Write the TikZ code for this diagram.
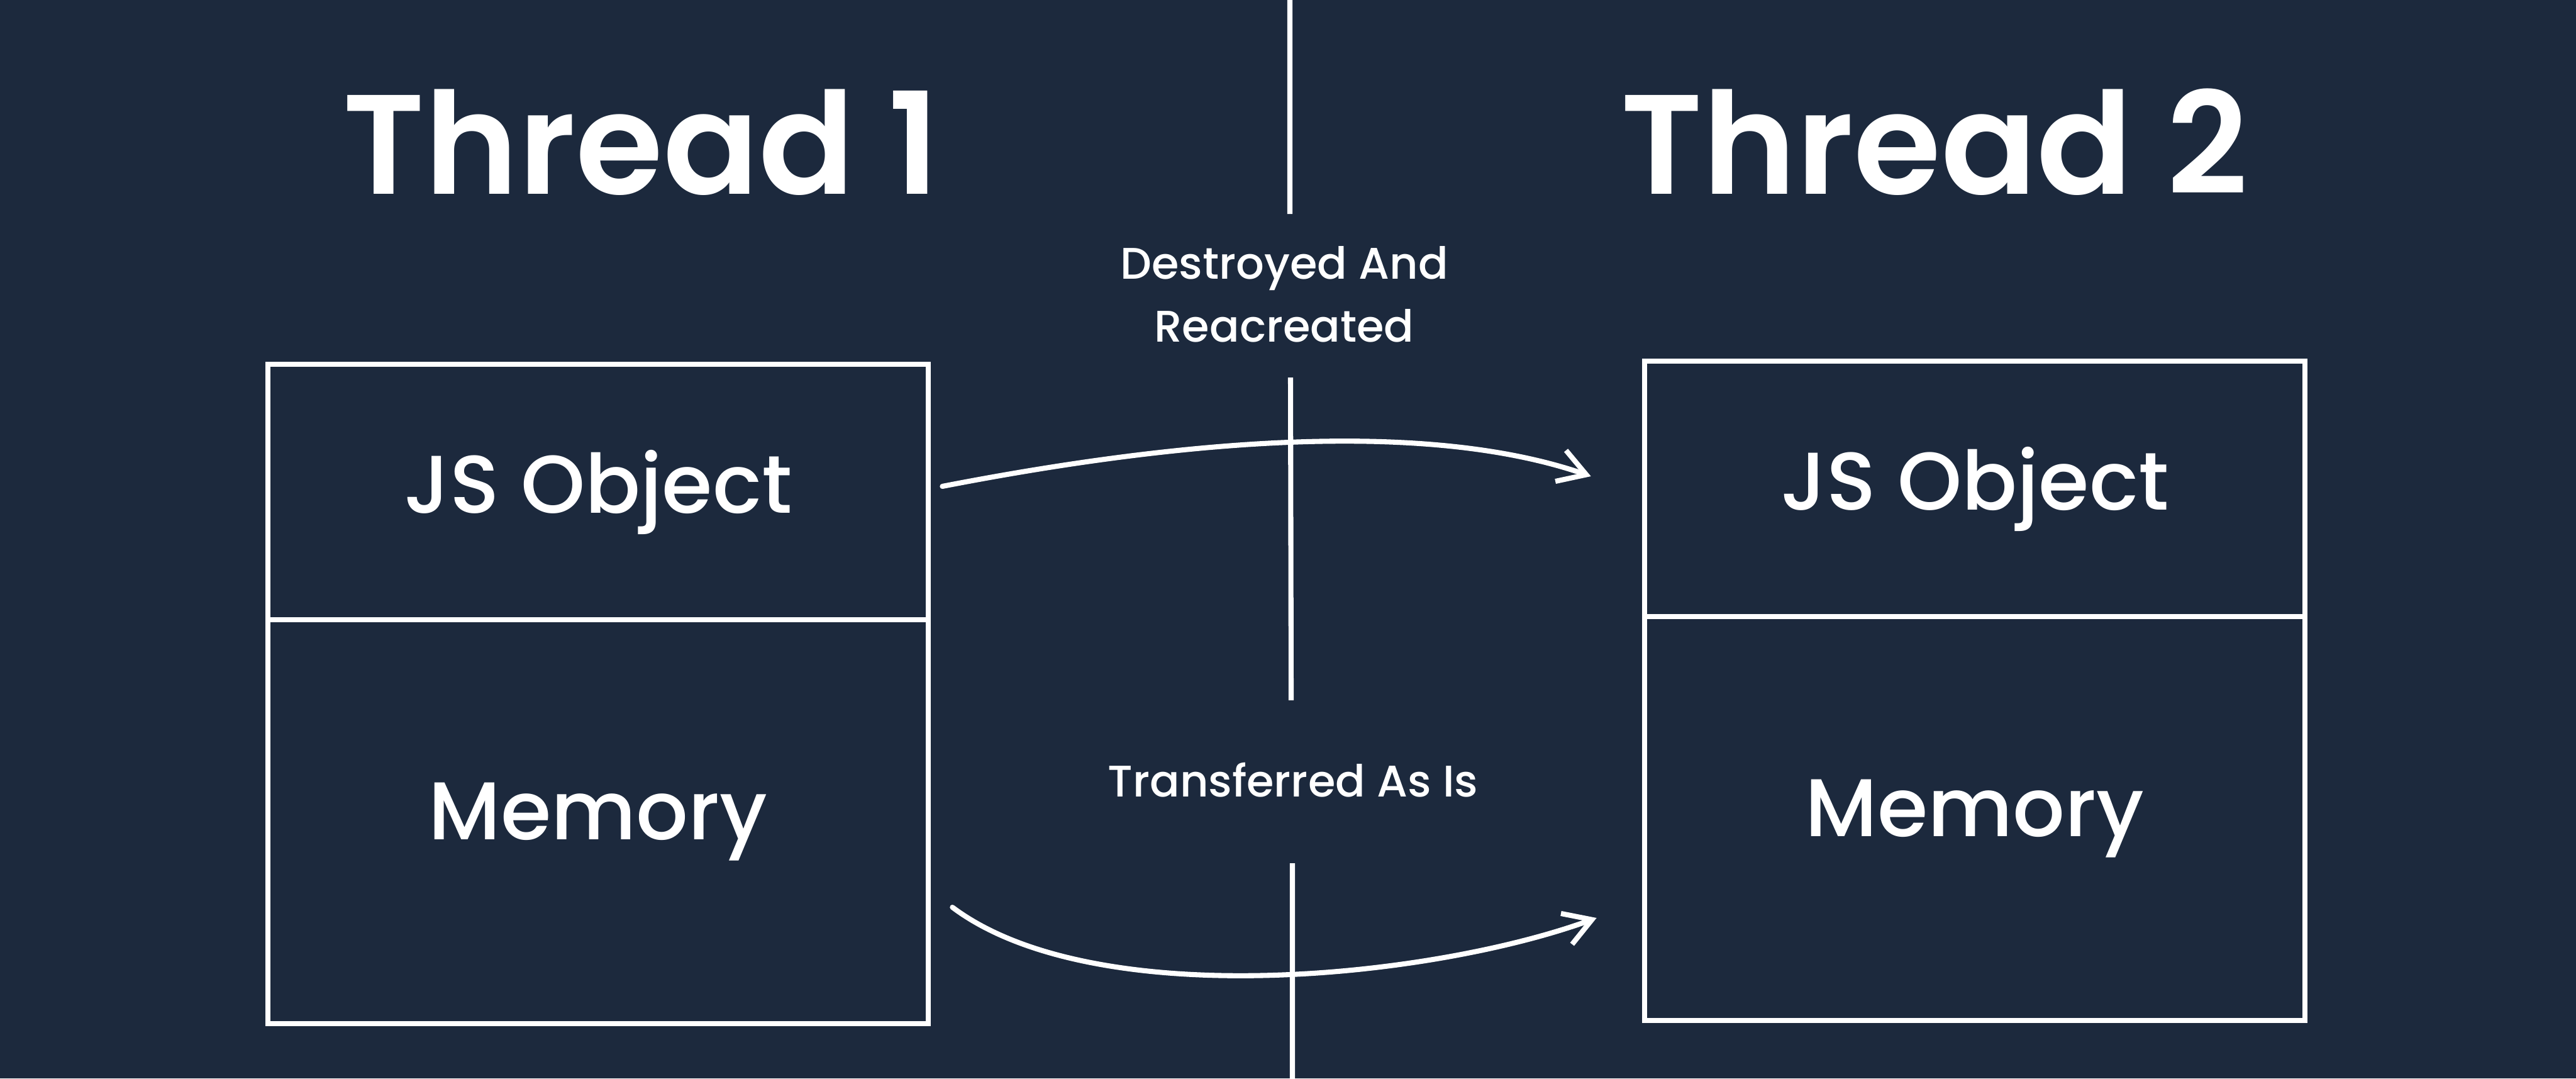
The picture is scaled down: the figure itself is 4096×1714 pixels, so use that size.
\documentclass[tikz,border=0pt]{standalone}
\usepackage{fontspec}
\setmainfont{Poppins}
\IfFontExistsTF{Poppins SemiBold}{\newfontfamily\headfont{Poppins SemiBold}}{\newfontfamily\headfont{Poppins}[FakeBold=2]}
\IfFontExistsTF{Poppins Medium}{\newfontfamily\labfont{Poppins Medium}}{\newfontfamily\labfont{Poppins}[FakeBold=0.6]}
\usetikzlibrary{arrows.meta}
\definecolor{slate}{HTML}{1C293D}
\begin{document}
\begin{tikzpicture}[x=0.01cm,y=-0.01cm,line width=2.3pt,white,
    cell/.style={draw,minimum width=10.5cm,inner sep=0pt,font=\labfont\fontsize{37}{44}\selectfont},
    title/.style={anchor=base,font=\headfont\fontsize{64}{70}\selectfont},
    note/.style={align=center,font=\labfont\fontsize{20}{28.5}\selectfont},
    flow/.style={-{Straight Barb[length=4.3mm,width=5.2mm]},line cap=round}]
        \useasboundingbox (0,0) rectangle (4096,1714);
        \fill[slate] (0,0) rectangle (4096,1714);
        % thread boxes
        \node[cell,minimum height=4.05cm] (objA) at (951,782) {JS Object};
        \node[cell,minimum height=6.42cm] (memA) at (951,1306) {Memory};
        \node[cell,minimum height=4.05cm] (objB) at (3140,777) {JS Object};
        \node[cell,minimum height=6.42cm] (memB) at (3140,1301) {Memory};
        \node[title] (headA) at (1020,308) {Thread 1};
        \node[title] (headB) at (3076,308) {Thread 2};
        % divider
        \draw (2051,0) -- (2051,340) (2052,600) -- (2053,1113) (2055,1372) -- (2055,1714);
        \node[note] (copyLbl) at (2042,468) {Destroyed And\\Reacreated};
        \node[note,anchor=base] (moveLbl) at (2056,1266) {Transferred As Is};
        % transfers
        \draw[flow] ([shift={(18,-9)}]objA.east) .. controls +(304,-59) and +(-293,-101) .. ([shift={(-81,-20)}]objB.west);
        \draw[flow] ([shift={(34,136)}]memA.east) .. controls +(225,169) and +(-264,96) .. ([shift={(-72,158)}]memB.west);
    \end{tikzpicture}
\end{document}
